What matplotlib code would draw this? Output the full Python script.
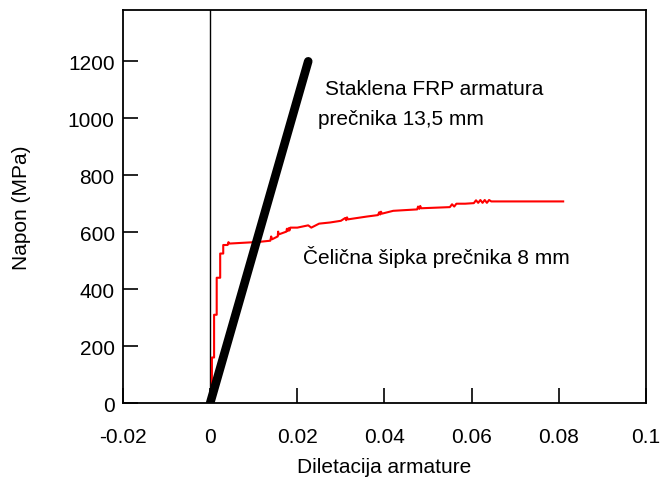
import matplotlib.pyplot as plt

plt.rcParams['font.family'] = ['Liberation Sans', 'DejaVu Sans']

# GFRP bar (linear) - strain, stress
frp_strain = [0.0, 0.0225]
frp_stress = [0, 1200]

# steel bar, stepwise test record
steel_strain = [0.0, 0.0004, 0.0004, 0.0009, 0.0009, 0.0015, 0.0015, 0.0023,
                0.0023, 0.003, 0.003, 0.004, 0.0042, 0.0044, 0.0102, 0.0104,
                0.0106, 0.0138, 0.014, 0.0142, 0.0155, 0.0156, 0.0157, 0.0175,
                0.0176, 0.0178, 0.018, 0.0182, 0.0184, 0.02, 0.0225, 0.0232,
                0.025, 0.0275, 0.03, 0.031, 0.0312, 0.0314, 0.0316, 0.036,
                0.0385, 0.0388, 0.039, 0.0392, 0.0394, 0.042, 0.0475, 0.0477,
                0.048, 0.0482, 0.0484, 0.055, 0.0555, 0.056, 0.0565, 0.0585,
                0.0605, 0.061, 0.0615, 0.062, 0.0625, 0.063, 0.0635, 0.064,
                0.0645, 0.081]
steel_stress = [0, 0, 160, 160, 310, 310, 440, 440,
                525, 525, 555, 555, 565, 560, 565, 575,
                565, 570, 585, 575, 585, 602, 592, 602,
                612, 604, 614, 606, 616, 616, 624, 616,
                630, 634, 640, 650, 642, 652, 645, 655,
                660, 670, 662, 672, 665, 675, 680, 690,
                682, 692, 684, 688, 698, 690, 700, 700,
                702, 712, 703, 713, 703, 713, 703, 713,
                708, 708]

x_ticks = [-0.02, 0, 0.02, 0.04, 0.06, 0.08, 0.1]
x_tick_labels = ['-0.02', '0', '0.02', '0.04', '0.06', '0.08', '0.1']
y_ticks = [0, 200, 400, 600, 800, 1000, 1200]

fig = plt.figure(figsize=(6.62, 4.81), dpi=100)
ax = fig.add_axes([0.1858, 0.160, 0.79, 0.817])

ax.axvline(0, color='black', lw=1.0, zorder=1)
ax.plot(steel_strain, steel_stress, color='red', lw=1.5, zorder=2)
ax.plot(frp_strain, frp_stress, color='black', lw=6.2,
        solid_capstyle='round', zorder=3)

ax.set_xlim(-0.02, 0.1)
ax.set_ylim(0, 1380)
ax.set_xticks(x_ticks)
ax.set_xticklabels(x_tick_labels)
ax.set_yticks(y_ticks)
ax.tick_params(direction='in', length=11, width=1.2, labelsize=15,
               top=False, right=False)
ax.tick_params(axis='x', pad=17)
ax.tick_params(axis='y', pad=6)
for s in ax.spines.values():
    s.set_linewidth(1.3)

ax.text(0.0264, 1105, 'Staklena FRP armatura', fontsize=15, ha='left', va='center')
ax.text(0.0248, 1000, 'prečnika 13,5 mm', fontsize=15, ha='left', va='center')
ax.text(0.0213, 515, 'Čelična šipka prečnika 8 mm', fontsize=15,
        ha='left', va='center')

ax.set_xlabel('Diletacija armature', fontsize=15)
ax.set_ylabel('Napon (MPa)', fontsize=15)
ax.xaxis.set_label_coords(0.5, -0.137)
ax.yaxis.set_label_coords(-0.176, 0.5)

plt.savefig('out.png', dpi=100)
